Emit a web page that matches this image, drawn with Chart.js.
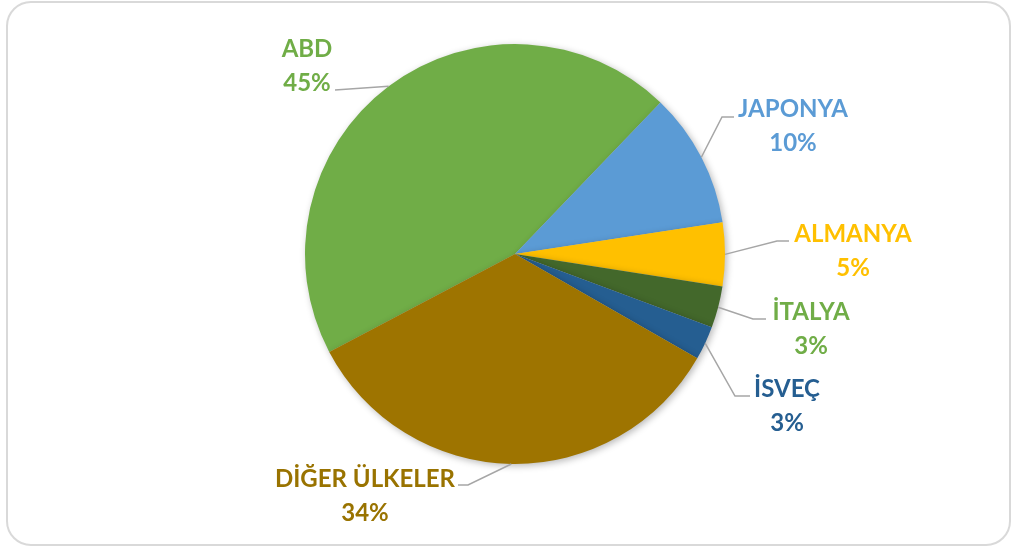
<!DOCTYPE html>
<html>
<head>
<meta charset="utf-8">
<script src="https://cdn.jsdelivr.net/npm/chart.js@4.4.1/dist/chart.umd.min.js"></script>
<style>
  html, body { margin: 0; padding: 0; background: #ffffff; }
  #wrap { width: 1016px; height: 548px; position: relative; }
</style>
</head>
<body>
<div id="wrap"><canvas id="c" width="1016" height="548"></canvas></div>
<script>
// ---- data ----
const categories = ['ABD', 'JAPONYA', 'ALMANYA', 'İTALYA', 'İSVEÇ', 'DİĞER ÜLKELER'];
const shares = [44.9, 10.4, 4.9, 3.2, 2.6, 34.0];
const sliceColors = ['#70AD47', '#5B9BD5', '#FFC000', '#43682B', '#255E91', '#9E7400'];
const labelColors = ['#70AD47', '#5B9BD5', '#FFC000', '#70AD47', '#255E91', '#997300'];

// ---- label layout (text centre x, baseline of first line, leader path start & bend) ----
const labelLayout = [
  { cx: 307, y: 57, line: [[335, 90], [335, 90]] },
  { cx: 793, y: 117, line: [[734, 117], [722, 117]] },
  { cx: 853, y: 242, line: [[789, 241], [777, 241]] },
  { cx: 811, y: 320, line: [[766, 319], [753, 319]] },
  { cx: 787, y: 397, line: [[750, 396], [735, 396]] },
  { cx: 365, y: 487, line: [[458, 485], [468, 485]] }
];

const total = shares.reduce((a, b) => a + b, 0);

const framePlugin = {
  id: 'frame',
  beforeDraw(chart) {
    const ctx = chart.ctx;
    ctx.save();
    ctx.fillStyle = '#ffffff';
    ctx.fillRect(0, 0, chart.width, chart.height);
    ctx.strokeStyle = '#d9d9d9';
    ctx.lineWidth = 2;
    ctx.beginPath();
    ctx.roundRect(7, 2, 1003, 543, 24);
    ctx.stroke();
    ctx.restore();
  }
};

const shadowPlugin = {
  id: 'shadow',
  beforeDatasetsDraw(chart) {
    const ctx = chart.ctx;
    ctx.save();
    ctx.shadowColor = 'rgba(0,0,0,0.28)';
    ctx.shadowBlur = 7;
    ctx.shadowOffsetX = 2;
    ctx.shadowOffsetY = 2;
  },
  afterDatasetsDraw(chart) {
    chart.ctx.restore();
  }
};

const labelPlugin = {
  id: 'pieLabels',
  afterDraw(chart) {
    const ctx = chart.ctx;
    const meta = chart.getDatasetMeta(0);
    ctx.save();
    meta.data.forEach((arc, i) => {
      const p = arc.getProps(['x', 'y', 'startAngle', 'endAngle', 'outerRadius'], true);
      const mid = (p.startAngle + p.endAngle) / 2;
      const ex = p.x + Math.cos(mid) * p.outerRadius;
      const ey = p.y + Math.sin(mid) * p.outerRadius;
      const L = labelLayout[i];
      ctx.strokeStyle = '#a6a6a6';
      ctx.lineWidth = 1.5;
      ctx.beginPath();
      ctx.moveTo(L.line[0][0], L.line[0][1]);
      ctx.lineTo(L.line[1][0], L.line[1][1]);
      ctx.lineTo(ex, ey);
      ctx.stroke();

      ctx.fillStyle = labelColors[i];
      ctx.font = 'bold 24px Lato';
      ctx.textAlign = 'center';
      ctx.textBaseline = 'alphabetic';
      ctx.fillText(chart.data.labels[i], L.cx, L.y);
      const pct = Math.round(chart.data.datasets[0].data[i] / total * 100) + '%';
      ctx.fillText(pct, L.cx, L.y + 34);
    });
    ctx.restore();
  }
};

new Chart(document.getElementById('c'), {
  type: 'pie',
  data: {
    labels: categories,
    datasets: [{
      data: shares,
      backgroundColor: sliceColors,
      borderWidth: 0
    }]
  },
  options: {
    responsive: false,
    animation: false,
    rotation: 242.2,
    layout: { padding: { top: 44, bottom: 84, left: 100, right: 86 } },
    plugins: {
      legend: { display: false },
      tooltip: { enabled: false },
      title: { display: false }
    }
  },
  plugins: [framePlugin, shadowPlugin, labelPlugin]
});
</script>
</body>
</html>
